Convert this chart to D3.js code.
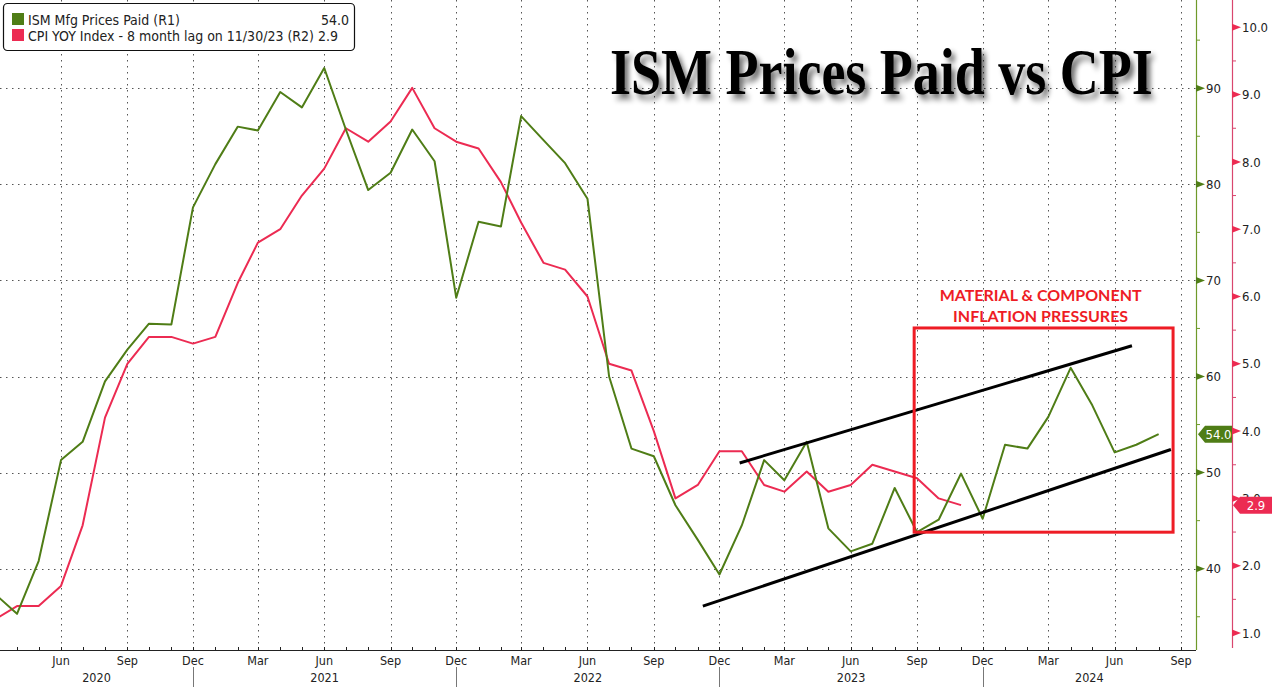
<!DOCTYPE html>
<html>
<head>
<meta charset="utf-8">
<script src="https://cdn.jsdelivr.net/npm/d3@7"></script>
<style>
  html, body { margin: 0; padding: 0; background: #ffffff; }
  svg { display: block; }
</style>
</head>
<body>
<svg id="chart" width="1272" height="691"></svg>
<script>
// ---------------- DATA ----------------
// Monthly observations, first value is March 2020
const seriesStart = "2020-03";
// ISM Manufacturing Prices Paid (left/R1 scale), Mar 2020 .. Aug 2024
const ismValues = [
  37.4, 35.3, 40.8, 51.3, 53.2, 59.5, 62.8, 65.5, 65.4, 77.6,
  82.1, 86.0, 85.6, 89.6, 88.0, 92.1, 85.7, 79.4, 81.2, 85.7, 82.4, 68.2,
  76.1, 75.6, 87.1, 84.6, 82.2, 78.5, 60.0, 52.5, 51.7, 46.6, 43.0, 39.4,
  44.5, 51.3, 49.2, 53.2, 44.2, 41.8, 42.6, 48.4, 43.8, 45.1, 49.9, 45.2,
  52.9, 52.5, 55.8, 60.9, 57.0, 52.1, 52.9, 54.0
];
// CPI YoY, shifted 8 months earlier (R2 scale), Mar 2020 .. Nov 2023
const cpiValues = [
  1.2, 1.4, 1.4, 1.7, 2.6, 4.2, 5.0, 5.4, 5.4, 5.3,
  5.4, 6.2, 6.8, 7.0, 7.5, 7.9, 8.5, 8.3, 8.6, 9.1, 8.5, 8.3,
  8.2, 7.7, 7.1, 6.5, 6.4, 6.0, 5.0, 4.9, 4.0, 3.0, 3.2, 3.7,
  3.7, 3.2, 3.1, 3.4, 3.1, 3.2, 3.5, 3.4, 3.3, 3.0, 2.9
];
const seriesNames = ["ISM Mfg Prices Paid (R1)", "CPI YOY Index - 8 month lag on 11/30/23 (R2)"];
const lastValues = ["54.0", "2.9"];
const leftMajorTicks = [40, 50, 60, 70, 80, 90];
const leftMinorTicks = [35, 45, 55, 65, 75, 85, 95];
const rightMajorTicks = [1, 2, 3, 4, 5, 6, 7, 8, 9, 10];
const rightMinorTicks = [1.5, 2.5, 3.5, 4.5, 5.5, 6.5, 7.5, 8.5, 9.5];
const yearLabels = [2020, 2021, 2022, 2023, 2024];
const titleText = "ISM Prices Paid vs CPI";
const noteLines = ["MATERIAL & COMPONENT", "INFLATION PRESSURES"];
// annotation geometry in data terms (date, ISM value)
const upperTrend = [["2022-12-29", 51.0], ["2024-06-25", 63.2]];
const lowerTrend = [["2022-11-08", 36.1], ["2024-08-18", 52.4]];
const noteBox = [["2023-08-28", 65.05], ["2024-08-21", 43.8]];

// ---------------- SETUP ----------------
const W = 1272, H = 691;
const plotL = 0, plotR = 1196, plotT = 0, plotB = 650;
const axisRX = 1232;
const GREEN = "#4f7d16", RED = "#ec2b52", BOXRED = "#ee1c25";
const sansC = "'DejaVu Sans Condensed', 'DejaVu Sans', sans-serif";

const parseDay = d3.utcParse("%Y-%m-%d");
const start = d3.utcParse("%Y-%m")(seriesStart);
const monthDate = i => d3.utcMonth.offset(start, i);

const ismData = ismValues.map((v, i) => ({ date: monthDate(i), value: v }));
const cpiData = cpiValues.map((v, i) => ({ date: monthDate(i), value: v }));

const x = d3.scaleUtc()
  .domain([new Date(Date.UTC(2020, 5, 1)), new Date(Date.UTC(2024, 8, 1))])
  .range([61, 1181]);
const yL = d3.scaleLinear().domain([40, 90]).range([568.7, 88.2]);
const yR = d3.scaleLinear().domain([1, 10]).range([633, 27.3]);

const svg = d3.select("#chart");
svg.append("rect").attr("width", W).attr("height", H).attr("fill", "#fff");

const defs = svg.append("defs");
defs.append("clipPath").attr("id", "plotClip")
  .append("rect").attr("x", plotL).attr("y", plotT)
  .attr("width", plotR - plotL).attr("height", plotB - plotT);
const f = defs.append("filter").attr("id", "shadow")
  .attr("x", "-5%").attr("y", "-30%").attr("width", "115%").attr("height", "170%");
f.append("feGaussianBlur").attr("in", "SourceAlpha").attr("stdDeviation", 2.4).attr("result", "b");
f.append("feOffset").attr("in", "b").attr("dx", 4).attr("dy", 4).attr("result", "o");
f.append("feComponentTransfer").attr("in", "o").attr("result", "o2")
  .append("feFuncA").attr("type", "linear").attr("slope", 0.55);
const fm = f.append("feMerge");
fm.append("feMergeNode").attr("in", "o2");
fm.append("feMergeNode").attr("in", "SourceGraphic");

// ---------------- GRID ----------------
const allMonths = d3.utcMonth.range(new Date(Date.UTC(2020, 2, 1)), new Date(Date.UTC(2024, 9, 1)));
const quarterTicks = allMonths.filter(d => d.getUTCMonth() % 3 === 2 && x(d) >= plotL && x(d) <= plotR);
const monthTicks = allMonths.filter(d => x(d) >= plotL && x(d) <= plotR);

const grid = svg.append("g").attr("stroke", "#555").attr("stroke-width", 1)
  .attr("stroke-dasharray", "1.5,4.5");
grid.selectAll("line.h").data(leftMajorTicks).join("line")
  .attr("x1", plotL).attr("x2", plotR)
  .attr("y1", d => Math.round(yL(d)) + 0.5).attr("y2", d => Math.round(yL(d)) + 0.5);
grid.selectAll("line.v").data(quarterTicks).join("line")
  .attr("x1", d => Math.round(x(d)) + 0.5).attr("x2", d => Math.round(x(d)) + 0.5)
  .attr("y1", plotT).attr("y2", plotB);

// ---------------- TITLE ----------------
svg.append("g").attr("transform", "translate(610,94) scale(1,1.22)")
  .append("text")
  .attr("x", 0).attr("y", 0)
  .attr("font-family", "'Liberation Serif', 'Times New Roman', serif")
  .attr("font-weight", "bold").attr("font-size", 54)
  .attr("fill", "#000").attr("filter", "url(#shadow)")
  .text(titleText);

// ---------------- SERIES ----------------
const plot = svg.append("g").attr("clip-path", "url(#plotClip)");
const lineL = d3.line().x(d => x(d.date)).y(d => yL(d.value));
const lineR = d3.line().x(d => x(d.date)).y(d => yR(d.value));

plot.append("path").datum(cpiData).attr("d", lineR)
  .attr("fill", "none").attr("stroke", RED).attr("stroke-width", 2).attr("stroke-linejoin", "round");
plot.append("path").datum(ismData).attr("d", lineL)
  .attr("fill", "none").attr("stroke", GREEN).attr("stroke-width", 2).attr("stroke-linejoin", "round");

// trend channel
const trend = d3.line().x(d => x(parseDay(d[0]))).y(d => yL(d[1]));
[upperTrend, lowerTrend].forEach(t => {
  plot.append("path").attr("d", trend(t)).attr("fill", "none")
    .attr("stroke", "#000").attr("stroke-width", 3).attr("stroke-linecap", "butt");
});

// note box
const bx0 = x(parseDay(noteBox[0][0])), bx1 = x(parseDay(noteBox[1][0]));
const by0 = yL(noteBox[0][1]), by1 = yL(noteBox[1][1]);
svg.append("rect").attr("x", bx0).attr("y", by0)
  .attr("width", bx1 - bx0).attr("height", by1 - by0)
  .attr("fill", "none").attr("stroke", BOXRED).attr("stroke-width", 3);
const noteCx = (bx0 + bx1) / 2 - 3;
noteLines.forEach((t, i) => {
  svg.append("text").attr("x", noteCx).attr("y", 301 + i * 21)
    .attr("text-anchor", "middle")
    .attr("font-family", "Lato, 'Open Sans', sans-serif").attr("font-weight", "bold")
    .attr("font-size", 16).attr("fill", BOXRED)
    .text(t);
});

// ---------------- X AXIS ----------------
const xa = svg.append("g");
xa.append("line").attr("x1", plotL).attr("x2", plotR).attr("y1", plotB + 0.5).attr("y2", plotB + 0.5)
  .attr("stroke", "#222").attr("stroke-width", 1);
xa.selectAll("line.mt").data(monthTicks).join("line")
  .attr("x1", d => Math.round(x(d)) + 0.5).attr("x2", d => Math.round(x(d)) + 0.5)
  .attr("y1", plotB - 3).attr("y2", plotB)
  .attr("stroke", "#222");
xa.selectAll("text.q").data(quarterTicks).join("text")
  .attr("x", d => x(d)).attr("y", 665)
  .attr("text-anchor", "middle").attr("font-family", sansC).attr("font-size", 12.5)
  .attr("fill", "#222").text(d => d3.utcFormat("%b")(d));
const decTicks = quarterTicks.filter(d => d.getUTCMonth() === 11);
xa.selectAll("line.yr").data(decTicks).join("line")
  .attr("x1", d => Math.round(x(d)) + 0.5).attr("x2", d => Math.round(x(d)) + 0.5)
  .attr("y1", 667).attr("y2", 687).attr("stroke", "#777").attr("stroke-width", 1);
xa.selectAll("text.yr").data(yearLabels).join("text")
  .attr("x", yr => {
    const a = Math.max(plotL, x(new Date(Date.UTC(yr - 1, 11, 1))));
    const b = Math.min(plotR, x(new Date(Date.UTC(yr, 11, 1))));
    return (a + b) / 2;
  })
  .attr("y", 682).attr("text-anchor", "middle").attr("font-family", sansC)
  .attr("font-size", 12.5).attr("fill", "#222").text(d => d);

// ---------------- LEFT (R1) AXIS on right side ----------------
const ga = svg.append("g");
ga.append("line").attr("x1", plotR + 0.5).attr("x2", plotR + 0.5).attr("y1", 0).attr("y2", plotB)
  .attr("stroke", "#6f9a2a").attr("stroke-width", 1.2);
ga.selectAll("line.mn").data(leftMinorTicks).join("line")
  .attr("x1", plotR).attr("x2", plotR + 4)
  .attr("y1", d => yL(d)).attr("y2", d => yL(d)).attr("stroke", "#6f9a2a");
ga.selectAll("path.mj").data(leftMajorTicks).join("path")
  .attr("d", d => `M${plotR},${yL(d) - 3.5}L${plotR + 9},${yL(d)}L${plotR},${yL(d) + 3.5}Z`)
  .attr("fill", GREEN);
ga.selectAll("text").data(leftMajorTicks).join("text")
  .attr("x", plotR + 10).attr("y", d => yL(d)).attr("dy", "0.36em")
  .attr("font-family", sansC).attr("font-size", 13).attr("fill", "#222").text(d => d);

// ---------------- RIGHT (R2) AXIS ----------------
const ra = svg.append("g");
ra.append("line").attr("x1", axisRX + 0.5).attr("x2", axisRX + 0.5).attr("y1", 0).attr("y2", 648)
  .attr("stroke", "#d9466e").attr("stroke-width", 1.2);
ra.selectAll("line.mn").data(rightMinorTicks).join("line")
  .attr("x1", axisRX).attr("x2", axisRX + 4)
  .attr("y1", d => yR(d)).attr("y2", d => yR(d)).attr("stroke", "#d9466e");
ra.selectAll("path.mj").data(rightMajorTicks).join("path")
  .attr("d", d => `M${axisRX},${yR(d) - 3.5}L${axisRX + 9},${yR(d)}L${axisRX},${yR(d) + 3.5}Z`)
  .attr("fill", RED);
ra.selectAll("text").data(rightMajorTicks).join("text")
  .attr("x", axisRX + 10).attr("y", d => yR(d)).attr("dy", "0.36em")
  .attr("font-family", sansC).attr("font-size", 13).attr("fill", "#222")
  .text(d => d3.format(".1f")(d));

// ---------------- LAST VALUE TAGS ----------------
function tag(xp, yp, w, fill, txt) {
  const h = 17;
  svg.append("path")
    .attr("d", `M${xp},${yp}L${xp + 7},${yp - h / 2}L${xp + w},${yp - h / 2}L${xp + w},${yp + h / 2}L${xp + 7},${yp + h / 2}Z`)
    .attr("fill", fill);
  svg.append("text").attr("x", xp + 7 + (w - 7) / 2).attr("y", yp).attr("dy", "0.36em")
    .attr("text-anchor", "middle").attr("font-family", sansC).attr("font-size", 13)
    .attr("fill", "#fff").text(txt);
}
tag(plotR + 2, yL(ismValues[ismValues.length - 1]), axisRX - plotR - 2, GREEN, lastValues[0]);
tag(axisRX + 1, yR(cpiValues[cpiValues.length - 1]), W - axisRX - 1, RED, lastValues[1]);

// ---------------- LEGEND ----------------
const lg = svg.append("g");
lg.append("rect").attr("x", 3.5).attr("y", 3.5).attr("width", 351).attr("height", 47).attr("rx", 4)
  .attr("fill", "#fff").attr("stroke", "#111").attr("stroke-width", 1.2);
const colors = [GREEN, RED];
seriesNames.forEach((n, i) => {
  lg.append("rect").attr("x", 12).attr("y", 13 + i * 16).attr("width", 12).attr("height", 12).attr("fill", colors[i]);
  lg.append("text").attr("x", 28).attr("y", 25 + i * 16)
    .attr("font-family", sansC).attr("font-size", 14).attr("fill", "#222").text(n);
});
const valueX = [321, 318];
lastValues.forEach((v, i) => {
  lg.append("text").attr("x", valueX[i]).attr("y", 25 + i * 16)
    .attr("font-family", sansC).attr("font-size", 14).attr("fill", "#222").text(v);
});
</script>
</body>
</html>
